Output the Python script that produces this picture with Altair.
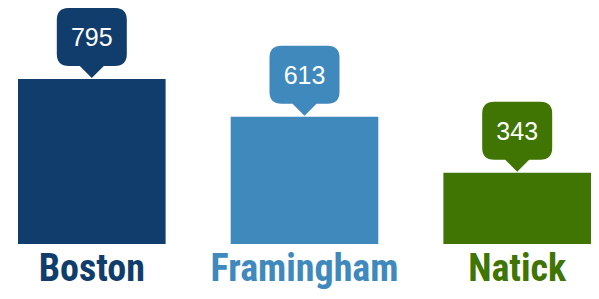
import altair as alt
import pandas as pd

towns = ["Boston", "Framingham", "Natick"]
counts = [795, 613, 343]
colors = ["#103d6c", "#4089bd", "#407403"]

df = pd.DataFrame({"town": towns, "count": counts})

x = alt.X("town:N", sort=towns, axis=None,
          scale=alt.Scale(paddingInner=0.306, paddingOuter=0))
y = alt.Y("count:Q", axis=None, scale=alt.Scale(domain=[0, 1137], nice=False, zero=True))
color = alt.Color("town:N", scale=alt.Scale(domain=towns, range=colors), legend=None)

bubble_path = ("M -23,-71 L 23,-71 Q 35,-71 35,-59 L 35,-25 Q 35,-13 23,-13 "
               "L 12,-13 L 0,-1 L -12,-13 L -23,-13 Q -35,-13 -35,-25 "
               "L -35,-59 Q -35,-71 -23,-71 Z")

base = alt.Chart(df)

bars = base.mark_bar().encode(x=x, y=y, color=color)

bubbles = base.mark_point(shape=bubble_path, size=4, filled=True, opacity=1,
                          strokeWidth=0).encode(x=x, y=y, color=color)

nums = base.mark_text(fontSize=25, font="Liberation Sans, Arial, sans-serif",
                      color="white", baseline="alphabetic", align="center",
                      dy=-33).encode(x=x, y=y, text="count:Q")

labels = base.mark_text(fontSize=38, fontWeight="bold",
                        font="Liberation Sans Narrow, Roboto Condensed, DejaVu Sans Condensed, sans-serif",
                        baseline="alphabetic", align="center", dy=37).encode(
    x=x, y=alt.value(236), text="town:N", color=color)

chart = alt.layer(bars, bubbles, nums, labels).properties(
    width=573, height=236,
    autosize=alt.AutoSizeParams(type="none"),
    padding={"left": 10, "top": 0, "right": 0, "bottom": 47},
).configure_view(stroke=None)

chart.save("out.html", embed_options={"renderer": "svg", "actions": False})
